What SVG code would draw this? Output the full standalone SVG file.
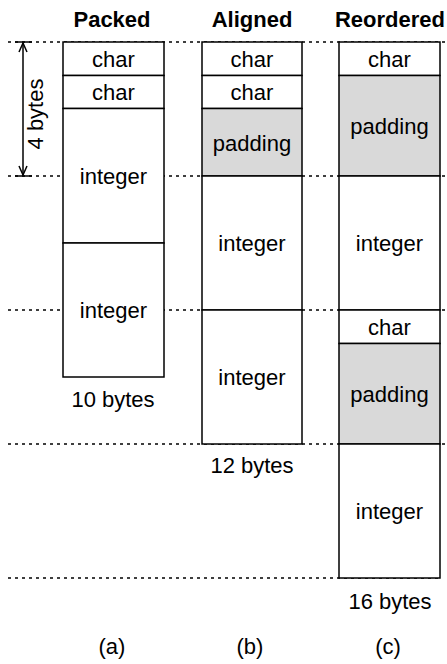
<svg xmlns="http://www.w3.org/2000/svg" width="447" height="664" viewBox="0 0 447 664">
<style>
text{font-family:"Liberation Sans",Arial,sans-serif;font-size:22px;fill:#000;text-anchor:middle}
.t{font-weight:bold}
.b{fill:#fff;stroke:#000;stroke-width:1.5}
.p{fill:#d9d9d9;stroke:#000;stroke-width:1.5}
.d{stroke:#000;stroke-width:1.3;stroke-dasharray:3 4;fill:none}
.a{stroke:#000;stroke-width:1.5;fill:none}
</style>
<rect width="447" height="664" fill="#fff"/>
<g id="guides">
<line class="d" x1="8" y1="42" x2="447" y2="42"/>
<line class="d" x1="8" y1="176" x2="447" y2="176"/>
<line class="d" x1="8" y1="310" x2="447" y2="310"/>
<line class="d" x1="8" y1="444" x2="447" y2="444"/>
<line class="d" x1="8" y1="578" x2="440" y2="578"/>
</g>
<g id="titles">
<text class="t" x="112" y="27">Packed</text>
<text class="t" x="252" y="27">Aligned</text>
<text class="t" x="390" y="27">Reordered</text>
</g>
<g id="dimension">
<line class="a" x1="15" y1="42" x2="32" y2="42"/>
<line class="a" x1="15" y1="176" x2="32" y2="176"/>
<line class="a" x1="23" y1="43" x2="23" y2="175"/>
<polyline class="a" points="19,52 23,43 27,52"/>
<polyline class="a" points="19,166 23,175 27,166"/>
<text transform="translate(43,114) rotate(-90)">4 bytes</text>
</g>
<g id="packed">
<rect class="b" x="63" y="42" width="101" height="33.5"/>
<text x="113.5" y="66.5">char</text>
<rect class="b" x="63" y="75.5" width="101" height="33"/>
<text x="113.5" y="100">char</text>
<rect class="b" x="63" y="108.5" width="101" height="134.5"/>
<text x="113.5" y="183.5">integer</text>
<rect class="b" x="63" y="243" width="101" height="134"/>
<text x="113.5" y="317.5">integer</text>
<text x="113" y="407">10 bytes</text>
<text x="112" y="654">(a)</text>
</g>
<g id="aligned">
<rect class="b" x="202" y="42" width="100" height="33.5"/>
<text x="252" y="66.5">char</text>
<rect class="b" x="202" y="75.5" width="100" height="33"/>
<text x="252" y="100">char</text>
<rect class="p" x="202" y="108.5" width="100" height="67.5"/>
<text x="252" y="150.5">padding</text>
<rect class="b" x="202" y="176" width="100" height="134"/>
<text x="252" y="250.5">integer</text>
<rect class="b" x="202" y="310" width="100" height="134"/>
<text x="252" y="384.5">integer</text>
<text x="252" y="473">12 bytes</text>
<text x="250" y="654">(b)</text>
</g>
<g id="reordered">
<rect class="b" x="339" y="42" width="101" height="33.5"/>
<text x="389.5" y="66.5">char</text>
<rect class="p" x="339" y="75.5" width="101" height="100.5"/>
<text x="389.5" y="133.5">padding</text>
<rect class="b" x="339" y="176" width="101" height="134"/>
<text x="389.5" y="250.5">integer</text>
<rect class="b" x="339" y="310" width="101" height="33.5"/>
<text x="389.5" y="334.5">char</text>
<rect class="p" x="339" y="343.5" width="101" height="100.5"/>
<text x="389.5" y="401.5">padding</text>
<rect class="b" x="339" y="444" width="101" height="134"/>
<text x="389.5" y="518.5">integer</text>
<text x="390" y="609">16 bytes</text>
<text x="388" y="654">(c)</text>
</g>
</svg>
